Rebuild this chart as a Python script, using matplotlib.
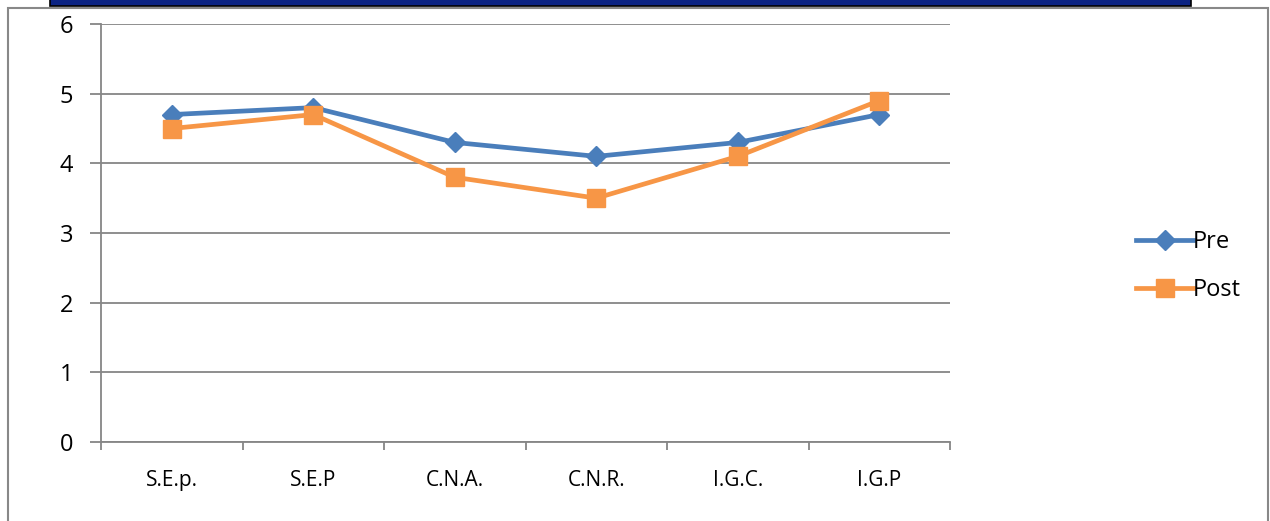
import matplotlib.pyplot as plt
from matplotlib.patches import Rectangle
import numpy as np

# chart data
categories = ["S.E.p.", "S.E.P", "C.N.A.", "C.N.R.", "I.G.C.", "I.G.P"]
pre = [4.7, 4.8, 4.3, 4.1, 4.3, 4.7]
post = [4.5, 4.7, 3.8, 3.5, 4.1, 4.9]
y_ticks = [0, 1, 2, 3, 4, 5, 6]

plt.rcParams['font.family'] = ['Open Sans', 'DejaVu Sans']

fig = plt.figure(figsize=(12.7, 5.21), dpi=100)

# outer frame and dark band on top
fig.patches.append(Rectangle((8 / 1270, -0.1), 1260 / 1270, 1.1 - 8 / 521,
                             transform=fig.transFigure, fill=False,
                             edgecolor="#888888", linewidth=1.5))
fig.patches.append(Rectangle((50 / 1270, 1 - 6 / 521), 1141 / 1270, 0.05,
                             transform=fig.transFigure, facecolor="#0b2383",
                             edgecolor="black", linewidth=1.2))

ax = fig.add_axes([101 / 1270, 1 - 442 / 521, 849 / 1270, 418 / 521])
x = np.arange(len(categories))

ax.plot(x, pre, color="#4a7ebb", linewidth=3.4, marker="D", markersize=10,
        label="Pre", zorder=3)
ax.plot(x, post, color="#f79646", linewidth=3.4, marker="s", markersize=13,
        label="Post", zorder=3)

ax.set_xlim(-0.5, len(categories) - 0.5)
ax.set_ylim(0, 6)
ax.set_yticks(y_ticks)
ax.yaxis.grid(True, color="#868686", linewidth=1.3)
ax.set_axisbelow(True)

ax.set_xticks(x)
ax.set_xticklabels(categories, fontsize=15)
ax.set_xticks(np.arange(len(categories) + 1) - 0.5, minor=True)
ax.tick_params(axis="x", which="major", length=0, pad=20)
ax.tick_params(axis="x", which="minor", length=6, width=1.3, color="#868686",
               direction="out")
ax.tick_params(axis="y", length=8, width=1.3, color="#868686", labelsize=17,
               pad=12)

for side in ["top", "right"]:
    ax.spines[side].set_visible(False)
for side in ["left", "bottom"]:
    ax.spines[side].set_color("#868686")
    ax.spines[side].set_linewidth(1.3)

ax.legend(loc="center left", bbox_to_anchor=(1115 / 1270, 1 - 266 / 521),
          bbox_transform=fig.transFigure, frameon=False, fontsize=17,
          handlelength=2.4, handletextpad=0.0, labelspacing=1.0)

fig.savefig("out.png", dpi=100)
